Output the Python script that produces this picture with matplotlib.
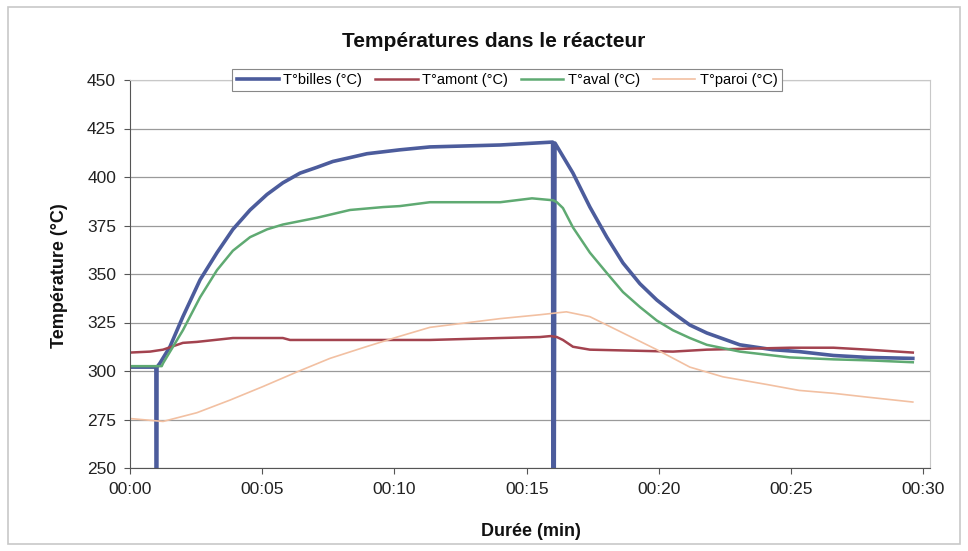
import matplotlib
matplotlib.use("Agg")
import matplotlib.pyplot as plt
from matplotlib.ticker import FuncFormatter, MultipleLocator
from matplotlib.patches import Rectangle

plt.rcParams['font.family'] = ['Liberation Sans', 'DejaVu Sans']

# relevés (temps en minutes, températures en °C)
billes_t = [0, 0.98, 1.0, 1.02, 1.13, 1.51, 2.0, 2.65, 3.29, 3.89, 4.54, 5.18, 5.78,
            6.43, 7.07, 7.67, 8.32, 8.96, 10.2, 11.34, 14.0, 15.98, 16.0, 16.07,
            16.75, 17.39, 18.03, 18.64, 19.28, 19.92, 20.53, 21.17, 21.81, 23.06,
            24.3, 25.3, 26.6, 27.9, 29.6]
billes_v = [302, 302, 0, 302, 304, 312.5, 328, 347, 361, 373, 383, 391, 397,
            402, 405, 408, 410, 412, 414, 415.5, 416.5, 418, 0, 417.5,
            402, 384.5, 369, 355.7, 345, 336.6, 330, 323.7, 319.6, 313.5,
            311, 310, 308, 307, 306.5]

aval_t = [0, 1.2, 1.25, 2.0, 2.65, 3.29, 3.89, 4.54, 5.18, 5.78, 7.07, 8.32, 9.57,
          10.2, 11.34, 14.0, 15.2, 16.0, 16.14, 16.37, 16.75, 17.39, 18.03, 18.64,
          19.28, 19.92, 20.53, 21.17, 21.81, 23.06, 24.95, 26.6, 27.9, 29.6]
aval_v = [302.5, 302.5, 304, 321, 338, 352, 362, 369, 373, 375.5, 379, 383, 384.5,
          385, 387, 387, 389, 388, 387, 384, 374, 361, 350.5, 340.7,
          333, 326, 321, 317, 313.5, 310, 307, 306, 305.5, 304.5]

amont_t = [0, 0.76, 1.25, 2.0, 2.53, 3.89, 5.78, 6.05, 11.34, 14.0, 15.5, 15.9,
           16.14, 16.37, 16.75, 17.39, 20.53, 21.81, 24.95, 26.6, 27.9, 29.6]
amont_v = [309.5, 310, 311, 314.5, 315, 317, 317, 316, 316, 317, 317.5, 318,
           317.5, 316, 312.5, 311, 310, 311, 312, 312, 311, 309.5]

paroi_t = [0, 1.25, 2.53, 3.78, 5.03, 6.31, 7.56, 8.81, 10.1, 11.34, 14.0, 15.5,
           16.5, 17.39, 18.64, 19.92, 21.17, 22.42, 24.1, 25.3, 26.6, 27.9, 29.6]
paroi_v = [275.5, 274, 278.5, 285, 292, 299.5, 306.5, 312, 317.5, 322.5, 327, 329,
           330.5, 328, 319.6, 311, 302, 297, 293, 290, 288.5, 286.5, 284]

W, H = 968, 551
fig = plt.figure(figsize=(W / 100, H / 100), dpi=100)
ax = fig.add_axes([130 / W, 1 - 468 / H, 800 / W, 388 / H])

# cadre extérieur du graphique
fig.patches.append(Rectangle((0.008, 0.012), 0.984, 0.976, transform=fig.transFigure,
                             fill=False, edgecolor='#c8c8c8', linewidth=1.2))

# ordre de tracé d'Excel : la dernière série passe au-dessus
ax.plot(billes_t, billes_v, color='#4c5c9c', lw=2.6, label='T°billes (°C)')
ax.plot(amont_t, amont_v, color='#a3434f', lw=1.8, label='T°amont (°C)')
ax.plot(aval_t, aval_v, color='#5faa72', lw=1.8, label='T°aval (°C)')
ax.plot(paroi_t, paroi_v, color='#f2c0a2', lw=1.2, label='T°paroi (°C)')

ax.set_xlim(0, 30.25)
ax.set_ylim(250, 450)
ax.xaxis.set_major_locator(MultipleLocator(5))
ax.yaxis.set_major_locator(MultipleLocator(25))
ax.xaxis.set_major_formatter(FuncFormatter(lambda v, p: '00:%02d' % int(round(v))))

ax.grid(axis='y', color='#9a9a9a', lw=0.9)
ax.set_axisbelow(True)
for side in ['top', 'right']:
    ax.spines[side].set_color('#c8c8c8')
for side in ['left', 'bottom']:
    ax.spines[side].set_color('#555555')
ax.tick_params(direction='out', length=4, color='#555555', labelsize=12.5, pad=6,
               labelcolor='#222222')

fig.text(494 / W, 1 - 41 / H, 'Températures dans le réacteur', fontsize=15,
         fontweight='bold', ha='center', va='center', color='#111111')
fig.text(60 / W, 1 - 276 / H, 'Température (°C)', fontsize=13, fontweight='bold',
         rotation=90, ha='center', va='center', color='#111111')
fig.text(531 / W, 1 - 531 / H, 'Durée (min)', fontsize=13, fontweight='bold',
         ha='center', va='center', color='#111111')

leg = ax.legend(loc='center', bbox_to_anchor=((507 - 130) / 800, (468 - 80) / 388),
                ncol=4, fontsize=10.5, frameon=True, fancybox=False,
                edgecolor='#888888', framealpha=1, handlelength=2.9,
                handletextpad=0.3, columnspacing=0.9, borderpad=0.3)
leg.get_frame().set_linewidth(0.8)
leg.set_zorder(10)

fig.savefig('out.png', dpi=100)
